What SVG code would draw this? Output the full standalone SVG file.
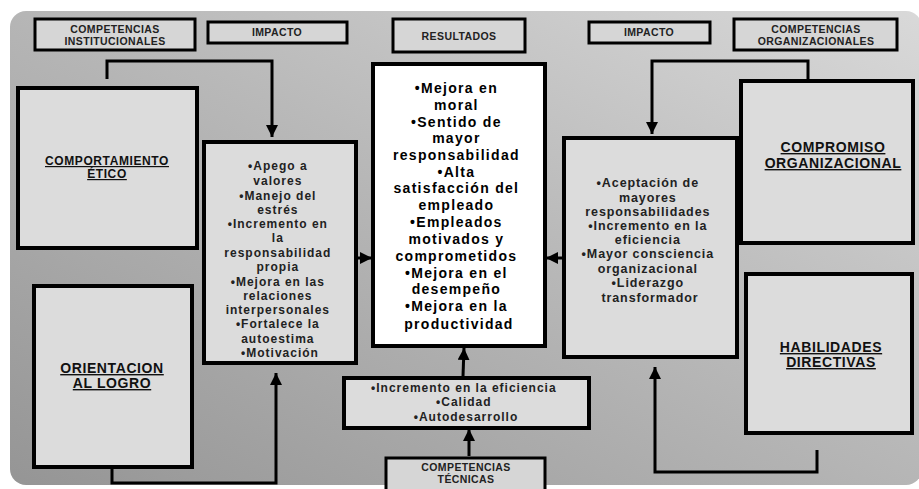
<svg xmlns="http://www.w3.org/2000/svg" width="919" height="489" viewBox="0 0 919 489">
<defs>
<linearGradient id="bg" x1="0" y1="1" x2="1" y2="0">
<stop offset="0" stop-color="#959595"/>
<stop offset="0.55" stop-color="#b9b9b9"/>
<stop offset="1" stop-color="#d9d9d9"/>
</linearGradient>
<marker id="ah" markerUnits="userSpaceOnUse" markerWidth="12" markerHeight="12" refX="12" refY="6" orient="auto">
<path d="M0,0 L12,6 L0,12 z" fill="#000"/>
</marker>
<style>
.hdr{fill:#d6d6d6;stroke:#000;stroke-width:3}
.box{fill:#dcdcdc;stroke:#000;stroke-width:4}
.wbox{fill:#fff;stroke:#000;stroke-width:4}
.ht{font-family:"Liberation Sans",Arial,sans-serif;font-weight:bold;font-size:10.5px;fill:#222;text-anchor:middle;letter-spacing:0.4px}
.tt{font-family:"Liberation Sans",Arial,sans-serif;font-weight:bold;font-size:14px;fill:#111;text-anchor:middle;text-decoration:underline;letter-spacing:0.6px}
.bt{font-family:"Liberation Sans",Arial,sans-serif;font-weight:bold;font-size:12px;fill:#222;text-anchor:middle;letter-spacing:1px}
.ct{font-family:"Liberation Sans",Arial,sans-serif;font-weight:bold;font-size:14px;fill:#000;text-anchor:middle;letter-spacing:1.3px}
.con{fill:none;stroke:#000;stroke-width:3}
</style>
</defs>
<rect x="0" y="0" width="919" height="489" fill="#fff"/>
<rect x="10" y="11" width="912" height="474" rx="16" fill="url(#bg)"/>

<g id="hdr-inst"><rect class="hdr" x="35" y="19" width="160" height="31"/><text class="ht" x="115" y="33">COMPETENCIAS</text><text class="ht" x="115" y="45">INSTITUCIONALES</text></g>
<g id="hdr-imp1"><rect class="hdr" x="208" y="22" width="139" height="21"/><text class="ht" x="277" y="36">IMPACTO</text></g>
<g id="hdr-res"><rect class="hdr" x="393" y="19" width="132" height="33"/><text class="ht" x="459" y="40">RESULTADOS</text></g>
<g id="hdr-imp2"><rect class="hdr" x="589" y="22" width="121" height="21"/><text class="ht" x="649" y="36">IMPACTO</text></g>
<g id="hdr-org"><rect class="hdr" x="734" y="19" width="163" height="31"/><text class="ht" x="816" y="33">COMPETENCIAS</text><text class="ht" x="816" y="45">ORGANIZACIONALES</text></g>

<g id="etico"><rect class="box" x="18" y="88" width="179" height="160"/><text class="tt" x="107" y="165" style="font-size:12px">COMPORTAMIENTO</text><text class="tt" x="107" y="178" style="font-size:12px">ÉTICO</text></g>
<g id="logro"><rect class="box" x="34" y="286" width="158" height="181"/><text class="tt" x="112" y="373">ORIENTACION</text><text class="tt" x="112" y="388">AL LOGRO</text></g>
<g id="compromiso"><rect class="box" x="741" y="81" width="172" height="162"/><text class="tt" x="833" y="152">COMPROMISO</text><text class="tt" x="833" y="168">ORGANIZACIONAL</text></g>
<g id="habilidades"><rect class="box" x="746" y="274" width="166" height="159"/><text class="tt" x="831" y="352">HABILIDADES</text><text class="tt" x="831" y="367">DIRECTIVAS</text></g>

<g id="impacto-inst"><rect class="box" x="204" y="142" width="152" height="221"/>
<text class="bt" x="280">
<tspan x="280" y="170">•Apego a</tspan>
<tspan x="280" y="185">valores</tspan>
<tspan x="280" y="200">•Manejo del</tspan>
<tspan x="280" y="214">estrés</tspan>
<tspan x="280" y="228">•Incremento en</tspan>
<tspan x="280" y="242">la</tspan>
<tspan x="280" y="257">responsabilidad</tspan>
<tspan x="280" y="271">propia</tspan>
<tspan x="280" y="286">•Mejora en las</tspan>
<tspan x="280" y="300">relaciones</tspan>
<tspan x="280" y="314">interpersonales</tspan>
<tspan x="280" y="328">•Fortalece la</tspan>
<tspan x="280" y="343">autoestima</tspan>
<tspan x="280" y="357">•Motivación</tspan>
</text></g>

<g id="resultados"><rect class="wbox" x="373" y="64" width="172" height="282"/>
<text class="ct" x="459">
<tspan x="459" y="93">•Mejora en</tspan>
<tspan x="459" y="110">moral</tspan>
<tspan x="459" y="127">•Sentido de</tspan>
<tspan x="459" y="143">mayor</tspan>
<tspan x="459" y="160">responsabilidad</tspan>
<tspan x="459" y="177">•Alta</tspan>
<tspan x="459" y="193">satisfacción del</tspan>
<tspan x="459" y="210">empleado</tspan>
<tspan x="459" y="227">•Empleados</tspan>
<tspan x="459" y="244">motivados y</tspan>
<tspan x="459" y="261">comprometidos</tspan>
<tspan x="459" y="278">•Mejora en el</tspan>
<tspan x="459" y="294">desempeño</tspan>
<tspan x="459" y="311">•Mejora en la</tspan>
<tspan x="459" y="329">productividad</tspan>
</text></g>

<g id="impacto-org"><rect class="box" x="564" y="138" width="173" height="219"/>
<text class="bt" x="650" style="font-size:12.5px;letter-spacing:0.9px">
<tspan x="650" y="187">•Aceptación de</tspan>
<tspan x="650" y="202">mayores</tspan>
<tspan x="650" y="216">responsabilidades</tspan>
<tspan x="650" y="230">•Incremento en la</tspan>
<tspan x="650" y="244">eficiencia</tspan>
<tspan x="650" y="258">•Mayor consciencia</tspan>
<tspan x="650" y="273">organizacional</tspan>
<tspan x="650" y="287">•Liderazgo</tspan>
<tspan x="650" y="302">transformador</tspan>
</text></g>

<g id="tecnicas-impacto"><rect class="box" x="344" y="378" width="245" height="50"/>
<text class="bt" x="466" style="font-size:12px;letter-spacing:1px">
<tspan x="466" y="392">•Incremento en la eficiencia</tspan>
<tspan x="466" y="406">•Calidad</tspan>
<tspan x="466" y="421">•Autodesarrollo</tspan>
</text></g>

<g id="hdr-tec"><rect class="hdr" x="386" y="458" width="159" height="34"/><text class="ht" x="466" y="471">COMPETENCIAS</text><text class="ht" x="466" y="483">TÉCNICAS</text></g>

<g id="connectors">
<path class="con" d="M107,79 V61 H272 V137" marker-end="url(#ah)"/>
<path class="con" d="M112,467 V483 H276 V373" marker-end="url(#ah)"/>
<path class="con" d="M357,258 H372" marker-end="url(#ah)"/>
<path class="con" d="M562,258 H546" marker-end="url(#ah)"/>
<path class="con" d="M808,79 V61 H652 V134" marker-end="url(#ah)"/>
<path class="con" d="M817,450 V472 H655 V367" marker-end="url(#ah)"/>
<path class="con" d="M463,376 L464,348" marker-end="url(#ah)"/>
<path class="con" d="M469,456 V429" marker-end="url(#ah)"/>
</g>
</svg>
